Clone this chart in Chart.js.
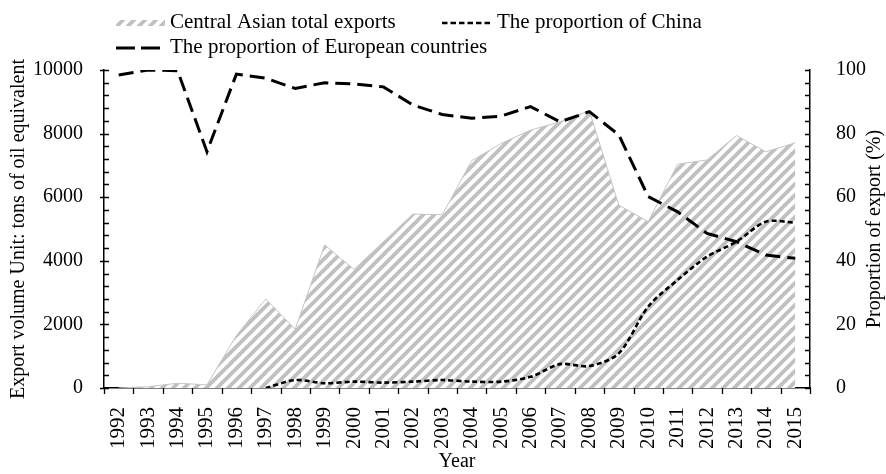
<!DOCTYPE html>
<html>
<head>
<meta charset="utf-8">
<script src="https://cdn.jsdelivr.net/npm/chart.js@4.4.1/dist/chart.umd.min.js"></script>
<style>
  html, body { margin: 0; padding: 0; background: #fff; }
  #wrap { width: 886px; height: 474px; }
</style>
</head>
<body>
<div id="wrap"><canvas id="c" width="886" height="474"></canvas></div>
<script>
// ---- data ----
const years = ['1992','1993','1994','1995','1996','1997','1998','1999','2000','2001','2002','2003',
               '2004','2005','2006','2007','2008','2009','2010','2011','2012','2013','2014','2015'];
const centralAsianExports = [0, 40, 150, 100, 1650, 2800, 1850, 4500, 3730, 4600, 5470, 5450,
                             7150, 7690, 8110, 8370, 8720, 5750, 5230, 7040, 7170, 7940, 7430, 7710];
const chinaShare = [null, null, null, null, null, 0, 2.5, 1.5, 2, 1.7, 2, 2.5,
                    2, 2, 3.5, 7.5, 6.9, 10.9, 25.6, 34, 41.3, 46, 52.3, 52];
const europeShare = [98.4, 100, 99.8, 74.3, 98.7, 97.4, 94.2, 96, 95.6, 94.7, 89, 86,
                     84.8, 85.5, 88.5, 83.7, 86.9, 79.6, 60.2, 55.4, 48.6, 46, 41.8, 40.8];
const leftTicks = [0, 2000, 4000, 6000, 8000, 10000];
const rightTicks = [0, 20, 40, 60, 80, 100];
const labels = {
  exports: 'Central Asian total exports',
  china: 'The proportion of China',
  europe: 'The proportion of European countries',
  yLeft: 'Export volume Unit: tons of oil equivalent',
  yRight: 'Proportion of export (%)',
  x: 'Year'
};

const FONT = "'Liberation Serif', 'Times New Roman', serif";
Chart.defaults.color = '#000';
Chart.defaults.font.family = FONT;

// hatch pattern
function makeHatch() {
  const s = 11;
  const c = document.createElement('canvas');
  c.width = s; c.height = s;
  const g = c.getContext('2d');
  g.fillStyle = '#fff';
  g.fillRect(0, 0, s, s);
  g.strokeStyle = '#c0c0c0';
  g.lineWidth = 3.8;
  g.beginPath();
  g.moveTo(-2, s + 2); g.lineTo(s + 2, -2);
  g.moveTo(-2, 2); g.lineTo(2, -2);
  g.moveTo(s - 2, s + 2); g.lineTo(s + 2, s - 2);
  g.stroke();
  return g.createPattern(c, 'repeat');
}
const ctx = document.getElementById('c').getContext('2d');
const hatch = makeHatch();

const decor = {
  id: 'decor',
  afterDraw(chart) {
    const c = chart.ctx;
    const {left, right, top, bottom} = chart.chartArea;
    const ys = chart.scales.y, y2 = chart.scales.y2, xs = chart.scales.x;
    c.save();
    c.strokeStyle = '#000';
    c.lineWidth = 1.3;
    c.setLineDash([]);
    c.beginPath();
    const lStep = (leftTicks[1] - leftTicks[0]) / 5;
    for (let v = leftTicks[0]; v <= leftTicks[leftTicks.length - 1] + 1e-9; v += lStep) {
      const py = Math.round(ys.getPixelForValue(v)) + 0.5;
      const major = leftTicks.includes(Math.round(v));
      c.moveTo(left - (major ? 4 : 0), py); c.lineTo(left + 5, py);
    }
    const rStep = (rightTicks[1] - rightTicks[0]) / 5;
    for (let v = rightTicks[0]; v <= rightTicks[rightTicks.length - 1] + 1e-9; v += rStep) {
      const py = Math.round(y2.getPixelForValue(v)) + 0.5;
      c.moveTo(right - 5, py); c.lineTo(right, py);
    }
    for (let i = 0; i <= years.length; i++) {
      const px = Math.round(xs.getPixelForValue(i - 0.5)) + 0.5;
      c.moveTo(px, bottom); c.lineTo(px, bottom + 6);
    }
    c.stroke();

    // right axis title (reads bottom to top)
    c.fillStyle = '#000';
    c.font = '20px ' + FONT;
    c.save();
    c.translate(875, (top + bottom) / 2);
    c.rotate(-Math.PI / 2);
    c.textAlign = 'center';
    c.textBaseline = 'middle';
    c.fillText(labels.yRight, 0, 0);
    c.restore();

    // legend
    c.font = '21px ' + FONT;
    c.textAlign = 'left';
    c.textBaseline = 'alphabetic';
    c.fillStyle = hatch;
    c.fillRect(116, 20, 49, 6);
    c.fillStyle = '#000';
    c.fillText(labels.exports, 170, 28);

    c.lineWidth = 2.5;
    c.setLineDash([5.5, 3]);
    c.beginPath(); c.moveTo(442, 23); c.lineTo(493, 23); c.stroke();
    c.fillText(labels.china, 497, 28);

    c.lineWidth = 3;
    c.setLineDash([19, 6]);
    c.beginPath(); c.moveTo(116, 48); c.lineTo(160, 48); c.stroke();
    c.fillText(labels.europe, 170, 53);
    c.restore();
  }
};

const plain = v => String(v);

new Chart(ctx, {
  type: 'line',
  data: {
    labels: years,
    datasets: [
      {
        label: labels.china,
        data: chinaShare,
        yAxisID: 'y2',
        borderColor: '#000',
        borderWidth: 2.6,
        borderDash: [5, 3],
        pointRadius: 0,
        tension: 0.3,
        fill: false,
        order: 1
      },
      {
        label: labels.europe,
        data: europeShare,
        yAxisID: 'y2',
        borderColor: '#000',
        borderWidth: 3,
        borderDash: [15, 7],
        pointRadius: 0,
        tension: 0,
        fill: false,
        order: 2
      },
      {
        label: labels.exports,
        data: centralAsianExports,
        yAxisID: 'y',
        borderColor: '#c6c6c6',
        borderWidth: 1,
        backgroundColor: hatch,
        pointRadius: 0,
        tension: 0,
        fill: 'origin',
        order: 3
      }
    ]
  },
  options: {
    responsive: false,
    animation: false,
    devicePixelRatio: 1,
    layout: { padding: { top: 70, left: 0, right: 0, bottom: 0 } },
    plugins: {
      legend: { display: false },
      tooltip: { enabled: false }
    },
    scales: {
      x: {
        offset: true,
        grid: { display: false },
        border: { display: true, color: '#000', width: 1.5 },
        ticks: { autoSkip: false, minRotation: 90, maxRotation: 90, padding: 11,
                 font: { size: 21, family: FONT }, color: '#000' },
        title: { display: true, text: labels.x, font: { size: 20, family: FONT },
                 color: '#000', padding: { top: 0, bottom: 0 } },
        afterFit(s) { s.height = 86; }
      },
      y: {
        position: 'left',
        min: leftTicks[0],
        max: leftTicks[leftTicks.length - 1],
        grid: { display: false },
        border: { display: true, color: '#000', width: 1.5 },
        ticks: { stepSize: leftTicks[1] - leftTicks[0], padding: 13, callback: plain,
                 font: { size: 20, family: FONT }, color: '#000' },
        title: { display: true, text: labels.yLeft, font: { size: 20, family: FONT },
                 color: '#000', padding: { top: 7, bottom: 0 } },
        afterFit(s) { s.width = 104; }
      },
      y2: {
        position: 'right',
        min: rightTicks[0],
        max: rightTicks[rightTicks.length - 1],
        grid: { display: false },
        border: { display: true, color: '#000', width: 1.5 },
        ticks: { stepSize: rightTicks[1] - rightTicks[0], padding: 18, callback: plain,
                 font: { size: 20, family: FONT }, color: '#000' },
        title: { display: false },
        afterFit(s) { s.width = 76; }
      }
    }
  },
  plugins: [decor]
});
</script>
</body>
</html>
